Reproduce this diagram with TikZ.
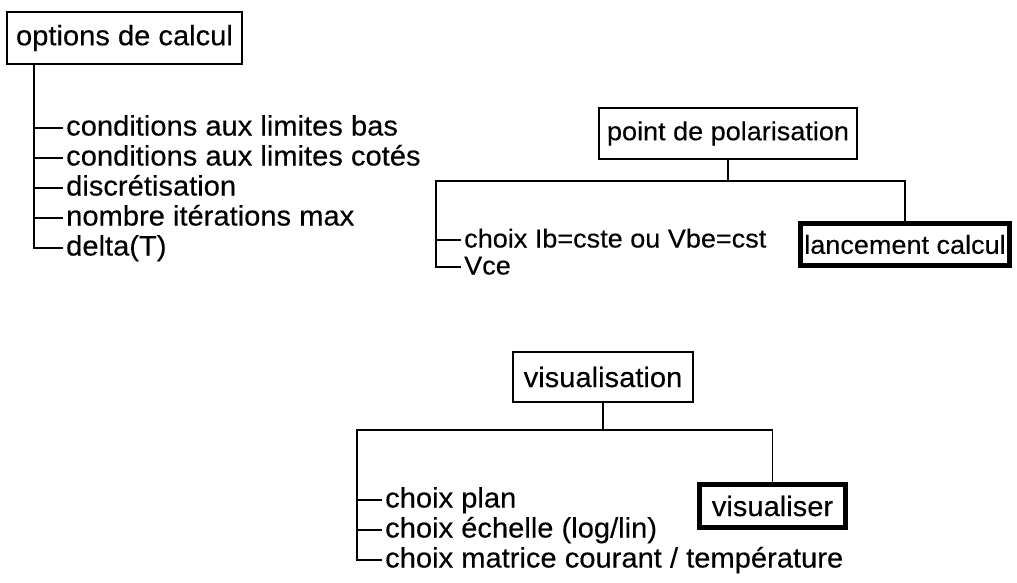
\documentclass[tikz,border=0pt]{standalone}
\usepackage{fontspec}
\setmainfont{Liberation Sans}[FakeStretch=1.04, FakeBold=0.3]
\usetikzlibrary{positioning}
\tikzset{
    menu-box/.style = {draw, line width=1.6pt, rectangle, inner xsep=3pt, inner ysep=2pt, minimum height=50pt},
    action-box/.style = {menu-box, line width=5pt, minimum height=42pt, inner xsep=4pt},
    menu-item/.style = {anchor=west, inner xsep=3pt, inner ysep=0pt, text height=21pt, text depth=6pt},
    small-text/.style = {font=\fontsize{26pt}{30pt}\selectfont},
    tree/.style = {line width=1.6pt},
}

\begin{document}
\begin{tikzpicture}[x=1pt, y=-1pt, font=\fontsize{28pt}{32pt}\selectfont, node distance=30pt]
\useasboundingbox (0,0) rectangle (1017,583);

% options de calcul
\node [menu-box, minimum width=235pt, minimum height=52pt] (calc) at (124.5,38) {options de calcul};
\coordinate (calc-root) at ([xshift=28pt]calc.south west);
\node [menu-item] (bas) at (63,128) {conditions aux limites bas};
\node [menu-item, below=of bas.west, anchor=west] (cotes) {conditions aux limites cotés};
\node [menu-item, below=of cotes.west, anchor=west] (discret) {discrétisation};
\node [menu-item, below=of discret.west, anchor=west] (iter) {nombre itérations max};
\node [menu-item, below=of iter.west, anchor=west] (delta) {delta(T)};
\draw [tree] (calc-root) |- (delta.west);
\draw [tree] (calc-root |- bas.west) -- (bas.west);
\draw [tree] (calc-root |- cotes.west) -- (cotes.west);
\draw [tree] (calc-root |- discret.west) -- (discret.west);
\draw [tree] (calc-root |- iter.west) -- (iter.west);

% point de polarisation
\begin{scope}[small-text, node distance=27pt]
\node [menu-box, minimum width=258pt, minimum height=51pt] (polar) at (728,133.5) {point de polarisation};
\coordinate (polar-bar) at (436,181);
\node [menu-item] (ib) at (461,240) {choix Ib=cste ou Vbe=cst};
\node [menu-item, below=of ib.west, anchor=west] (vce) {Vce};
\node [action-box] (launch) at (905,244.5) {lancement calcul};
\end{scope}
\draw [tree] (polar.south) -- (polar.south |- polar-bar);
\draw [tree] (vce.west) -| (polar-bar) -| (launch.north);
\draw [tree] (polar-bar |- ib.west) -- (ib.west);

% visualisation
\node [menu-box, minimum width=180pt] (visu) at (603,377) {visualisation};
\coordinate (visu-bar) at (357,430);
\node [menu-item] (plan) at (382,500) {choix plan};
\node [menu-item, below=of plan.west, anchor=west] (echelle) {choix échelle (log/lin)};
\node [menu-item, below=of echelle.west, anchor=west] (matrice) {choix matrice courant / température};
\node [action-box, minimum width=146pt, minimum height=43pt] (show) at (772.5,506) {visualiser};
\draw [tree] (visu.south) -- (visu.south |- visu-bar);
\draw [tree] (matrice.west) -| (visu-bar) -| (show.north);
\draw [tree] (visu-bar |- plan.west) -- (plan.west);
\draw [tree] (visu-bar |- echelle.west) -- (echelle.west);
\end{tikzpicture}
\end{document}
